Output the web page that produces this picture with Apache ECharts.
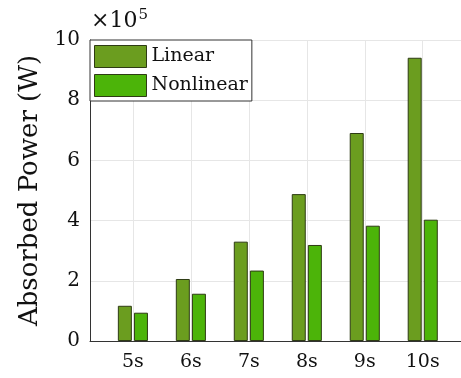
<!DOCTYPE html>
<html>
<head>
<meta charset="utf-8">
<script src="https://cdn.jsdelivr.net/npm/echarts@6/dist/echarts.min.js"></script>
<style>
  html, body { margin: 0; padding: 0; background: #fff; }
  #chart { width: 461px; height: 378px; }
</style>
</head>
<body>
<div id="chart"></div>
<script>
// Wave periods (s) and absorbed power in units of 1e5 W
const periods = [5, 6, 7, 8, 9, 10];
const periodLabels = ['5s', '6s', '7s', '8s', '9s', '10s'];
const linearPower = [1.17, 2.06, 3.30, 4.88, 6.91, 9.41];
const nonlinearPower = [0.94, 1.57, 2.34, 3.19, 3.83, 4.03];
const yTicks = [0, 2, 4, 6, 8, 10];

const font = '"DejaVu Serif", "Liberation Serif", serif';
const pair = (xs, ys) => xs.map((x, i) => [x, ys[i]]);

const chart = echarts.init(document.getElementById('chart'), null, { renderer: 'canvas' });
chart.setOption({
  animation: false,
  backgroundColor: '#fff',
  grid: { left: 90, top: 40, right: 0, bottom: 37, containLabel: false },
  legend: {
    orient: 'vertical',
    left: 90, top: 40,
    padding: [5, 4, 4, 4],
    icon: 'rect',
    itemWidth: 52, itemHeight: 22, itemGap: 6,
    backgroundColor: '#fff',
    borderColor: '#333', borderWidth: 1, borderRadius: 0,
    textStyle: { fontFamily: font, fontSize: 19, color: '#111' },
    data: [
      { name: 'Linear', itemStyle: { color: '#6b9d1f', borderColor: '#2e3b14', borderWidth: 1 } },
      { name: 'Nonlinear', itemStyle: { color: '#4cb409', borderColor: '#2e3b14', borderWidth: 1 } }
    ]
  },
  graphic: [{
    type: 'text', left: 91, top: 8,
    style: {
      text: '{a|×10}{b|5}',
      rich: {
        a: { fontFamily: font, fontSize: 22, fill: '#111' },
        b: { fontFamily: font, fontSize: 15, fill: '#111', verticalAlign: 'top', padding: [0, 0, 12, 1] }
      }
    }
  }],
  xAxis: {
    type: 'value', min: 4.26, max: 10.66,
    axisLine: { show: true, lineStyle: { color: '#333', width: 1 } },
    axisTick: { show: false, customValues: periods },
    axisLabel: {
      customValues: periods,
      margin: 12,
      fontFamily: font, fontSize: 19, color: '#111',
      formatter: v => periodLabels[periods.indexOf(v)]
    },
    splitLine: { show: true, lineStyle: { color: '#e6e6e6', width: 1 } }
  },
  yAxis: {
    type: 'value', min: 0, max: 10, interval: 2,
    name: 'Absorbed Power (W)',
    nameLocation: 'middle', nameGap: 47,
    nameTextStyle: { fontFamily: font, fontSize: 26, color: '#111' },
    axisLine: { show: true, lineStyle: { color: '#333', width: 1 } },
    axisTick: { show: false },
    axisLabel: { margin: 10, fontFamily: font, fontSize: 20, color: '#111',
      formatter: v => yTicks.includes(v) ? String(v) : '' },
    splitLine: { show: true, lineStyle: { color: '#e6e6e6', width: 1 } }
  },
  series: [
    {
      name: 'Linear', type: 'bar', barWidth: 14, barGap: '15%',
      data: pair(periods, linearPower),
      itemStyle: { color: '#6b9d1f', borderColor: '#2e3b14', borderWidth: 1 }
    },
    {
      name: 'Nonlinear', type: 'bar', barWidth: 14, barGap: '15%',
      data: pair(periods, nonlinearPower),
      itemStyle: { color: '#4cb409', borderColor: '#2e3b14', borderWidth: 1 }
    }
  ]
});
</script>
</body>
</html>
